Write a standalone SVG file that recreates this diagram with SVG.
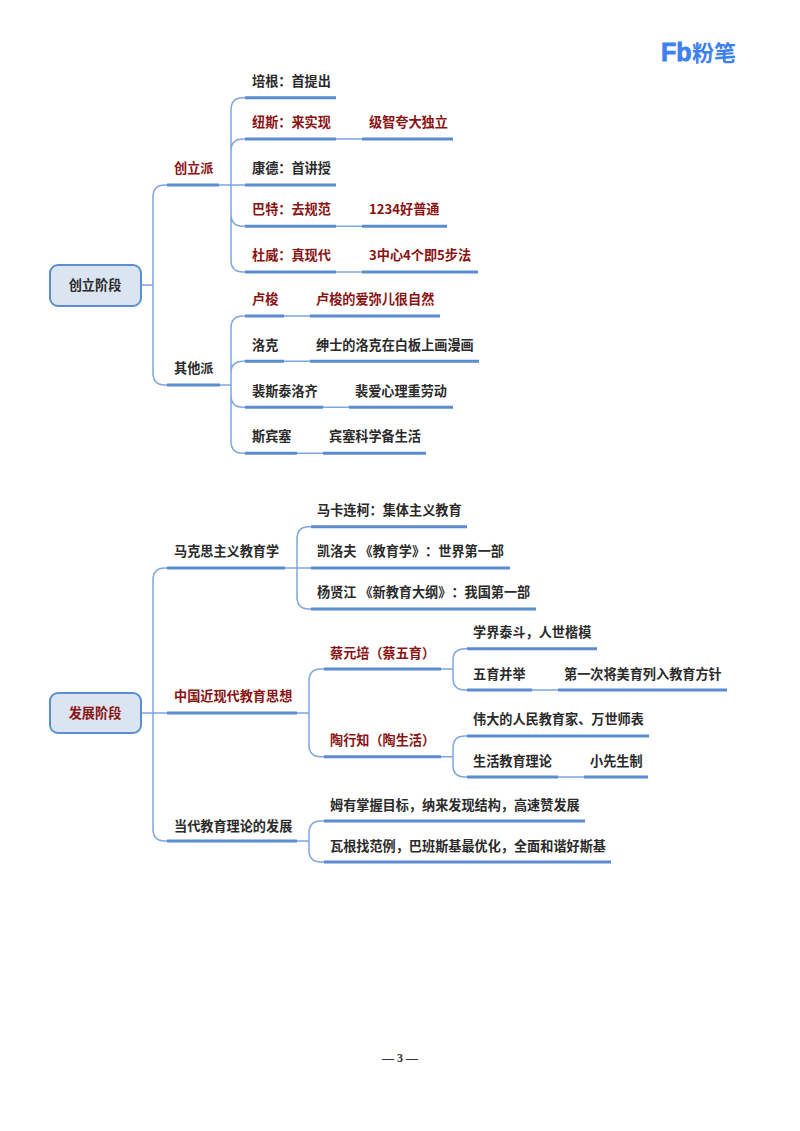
<svg xmlns="http://www.w3.org/2000/svg" width="800" height="1131" viewBox="0 0 800 1131">
<style>
text{font-family:"Noto Sans CJK SC","Liberation Sans",sans-serif;font-size:13.15px;font-weight:700;fill:#2a2a2a;text-spacing-trim:space-all}
.r{fill:#8a1212}
.u{stroke:#5b8bd0;stroke-width:3;fill:none}
.c{stroke:#7da7dd;stroke-width:1.5;fill:none}
.box{fill:#dbe5f1;stroke:#5b8fd2;stroke-width:2}
.m{text-anchor:middle}
</style>
<rect width="800" height="1131" fill="#fff"/>
<g id="connectors" class="c">
<path d="M141 285H153M167 185H165Q153 185 153 197V373Q153 385 165 385H167"/>
<path d="M219 185H245M231 110V260Q231 272 243 272H245M245 97.7H243Q231 97.7 231 110M245 139H243Q231 139 231 151M231 214Q231 226.300 243 226.300H245"/>
<path d="M336 139H362M336 226.300H362M336 272H362"/>
<path d="M220 385H231M245 316H243Q231 316 231 328V441Q231 453.300 243 453.300H245M245 361.300H243Q231 361.300 231 373M231 395Q231 407.300 243 407.300H245"/>
<path d="M284 316H310M284 361.300H310M323 407.300H349M297 453.300H323"/>
<path d="M141 713H297M167 568H165Q153 568 153 580V829Q153 841 165 841H167"/>
<path d="M285 568H311M311 526.700H309Q297 526.700 297 539V597Q297 609 309 609H311"/>
<path d="M297 713H309M324 669H321Q309 669 309 681V745Q309 756.700 321 756.700H324"/>
<path d="M441 669H453M467 648.700H465Q453 648.700 453 660V678Q453 690 465 690H467M532 690H558"/>
<path d="M441 756.700H453M467 736H465Q453 736 453 748V765Q453 777 465 777H467M558 777H584"/>
<path d="M297 841H309M324 821H321Q309 821 309 833V850Q309 862 321 862H324"/>
</g>
<g id="logo"><text x="661" y="61" style="font-family:'Liberation Sans',sans-serif;font-size:25px;font-weight:700;fill:#3d80ee;stroke:#3d80ee;stroke-width:.8">Fb</text><text x="692" y="61" style="font-size:22px;font-weight:700;fill:#3d80ee">粉笔</text></g>
<g id="root1"><rect class="box" x="50" y="265" width="91" height="41" rx="8"/><text class="m" x="95" y="290">创立阶段</text></g>
<g id="n-chuangli"><path class="u" d="M167 185H219"/><text class="r" x="174" y="173">创立派</text></g>
<g id="n-peigen"><path class="u" d="M245 97.700H336"/><text x="252" y="86">培根：首提出</text></g>
<g id="n-niusi"><path class="u" d="M245 139H336"/><text class="r" x="252" y="127">纽斯：来实现</text></g>
<g id="n-niusi2"><path class="u" d="M362 139H453"/><text class="r" x="369" y="127">级智夸大独立</text></g>
<g id="n-kangde"><path class="u" d="M245 185H336"/><text x="252" y="173">康德：首讲授</text></g>
<g id="n-bate"><path class="u" d="M245 226.300H336"/><text class="r" x="252" y="214">巴特：去规范</text></g>
<g id="n-bate2"><path class="u" d="M362 226.300H447"/><text class="r" x="369" y="214">1234好普通</text></g>
<g id="n-duwei"><path class="u" d="M245 272H336"/><text class="r" x="252" y="260">杜威：真现代</text></g>
<g id="n-duwei2"><path class="u" d="M362 272H478"/><text class="r" x="369" y="260">3中心4个即5步法</text></g>
<g id="n-qita"><path class="u" d="M167 385H220"/><text x="174" y="373">其他派</text></g>
<g id="n-lusuo"><path class="u" d="M245 316H284"/><text class="r" x="252" y="304">卢梭</text></g>
<g id="n-lusuo2"><path class="u" d="M310 316H440"/><text class="r" x="316" y="304">卢梭的爱弥儿很自然</text></g>
<g id="n-luoke"><path class="u" d="M245 361.300H284"/><text x="252" y="350">洛克</text></g>
<g id="n-luoke2"><path class="u" d="M310 361.300H479"/><text x="316" y="350">绅士的洛克在白板上画漫画</text></g>
<g id="n-pei"><path class="u" d="M245 407.300H323"/><text x="252" y="396">裴斯泰洛齐</text></g>
<g id="n-pei2"><path class="u" d="M349 407.300H453"/><text x="355" y="396">裴爱心理重劳动</text></g>
<g id="n-sibin"><path class="u" d="M245 453.300H297"/><text x="252" y="441">斯宾塞</text></g>
<g id="n-sibin2"><path class="u" d="M323 453.300H426"/><text x="329" y="441">宾塞科学备生活</text></g>
<g id="root2"><rect class="box" x="50" y="693" width="91" height="40" rx="8"/><text class="m r" x="95" y="718">发展阶段</text></g>
<g id="n-makesi"><path class="u" d="M167 568H285"/><text x="174" y="556">马克思主义教育学</text></g>
<g id="n-maka"><path class="u" d="M311 526.700H467"/><text x="317" y="515">马卡连柯：集体主义教育</text></g>
<g id="n-kailuofu"><path class="u" d="M311 568H510"/><text x="317" y="556">凯洛夫 《教育学》：世界第一部</text></g>
<g id="n-yang"><path class="u" d="M311 609H536"/><text x="317" y="597">杨贤江 《新教育大纲》：我国第一部</text></g>
<g id="n-zhongguo"><path class="u" d="M167 713H297"/><text class="r" x="174" y="701">中国近现代教育思想</text></g>
<g id="n-cai"><path class="u" d="M324 669H441"/><text class="r" x="330" y="658">蔡元培（蔡五育）</text></g>
<g id="n-xuejie"><path class="u" d="M467 648.700H597"/><text x="473" y="637">学界泰斗，人世楷模</text></g>
<g id="n-wuyu"><path class="u" d="M467 690H532"/><text x="473" y="679">五育并举</text></g>
<g id="n-wuyu2"><path class="u" d="M558 690H727"/><text x="564" y="679">第一次将美育列入教育方针</text></g>
<g id="n-tao"><path class="u" d="M324 756.700H441"/><text class="r" x="330" y="745">陶行知（陶生活）</text></g>
<g id="n-weida"><path class="u" d="M467 736H649"/><text x="473" y="724">伟大的人民教育家、万世师表</text></g>
<g id="n-shenghuo"><path class="u" d="M467 777H558"/><text x="473" y="766">生活教育理论</text></g>
<g id="n-shenghuo2"><path class="u" d="M584 777H648"/><text x="590" y="766">小先生制</text></g>
<g id="n-dangdai"><path class="u" d="M167 841H297"/><text x="174" y="831">当代教育理论的发展</text></g>
<g id="n-mu"><path class="u" d="M324 821H585"/><text x="330" y="810">姆有掌握目标，纳来发现结构，高速赞发展</text></g>
<g id="n-wa"><path class="u" d="M324 862H611"/><text x="330" y="851">瓦根找范例，巴班斯基最优化，全面和谐好斯基</text></g>
<text class="m" x="400" y="1062" style="font-family:'Liberation Serif',serif;font-size:12px;font-weight:700;fill:#333">— 3 —</text>
</svg>
